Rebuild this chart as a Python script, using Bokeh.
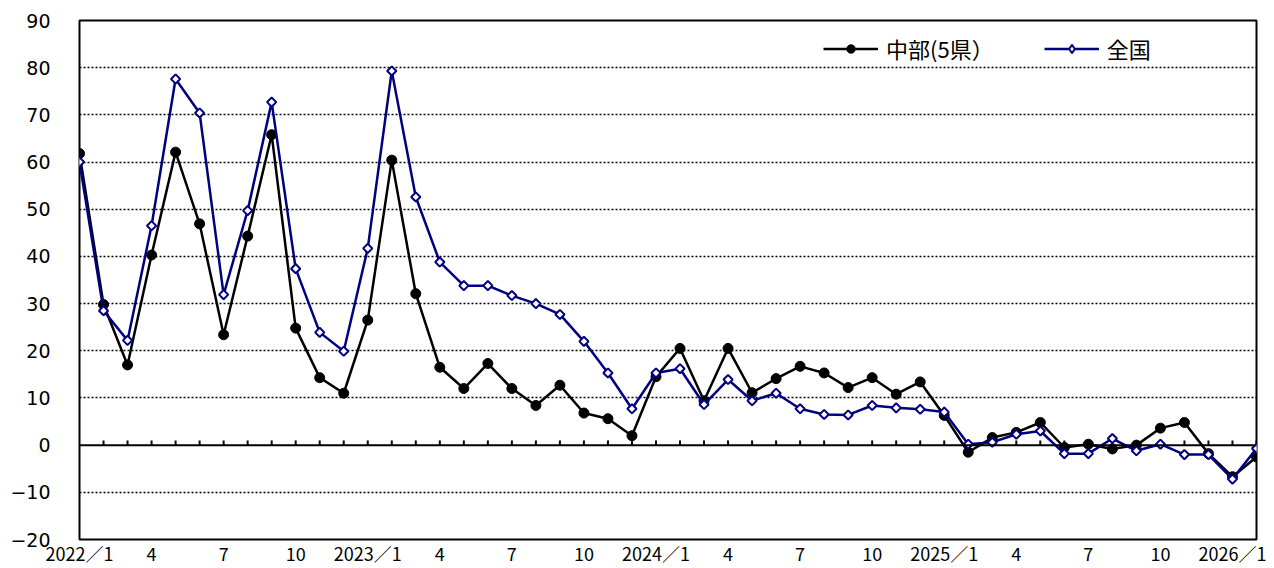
import math
from bokeh.plotting import figure
from bokeh.models import FixedTicker, Range1d, Span, ColumnDataSource, Legend, LegendItem
from bokeh.embed import file_html
from bokeh.resources import INLINE

# month index 0 = 2022/1 ... 49 = 2026/2
months = list(range(50))
chubu = [61.8, 29.8, 17.0, 40.3, 62.1, 46.9, 23.4, 44.3, 65.8, 24.8,
         14.3, 11.0, 26.5, 60.4, 32.1, 16.5, 12.0, 17.3, 12.0, 8.4,
         12.7, 6.8, 5.6, 2.0, 14.5, 20.5, 9.4, 20.5, 11.1, 14.1,
         16.7, 15.3, 12.2, 14.3, 10.8, 13.4, 6.3, -1.5, 1.6, 2.7,
         4.8, -0.5, 0.2, -0.8, 0.0, 3.6, 4.8, -1.8, -6.7, -2.5]
zenkoku = [60.0, 28.5, 22.2, 46.5, 77.6, 70.4, 31.9, 49.7, 72.7, 37.4,
           23.9, 19.9, 41.7, 79.3, 52.6, 38.8, 33.8, 33.8, 31.7, 30.0,
           27.7, 22.0, 15.3, 7.7, 15.3, 16.2, 8.6, 13.9, 9.4, 11.0,
           7.7, 6.5, 6.4, 8.4, 7.9, 7.6, 7.0, 0.2, 0.6, 2.3,
           3.0, -1.8, -1.8, 1.4, -1.2, 0.2, -2.0, -2.0, -7.2, -0.7]
tick_months = [0, 3, 6, 9, 12, 15, 18, 21, 24, 27, 30, 33, 36, 39, 42, 45, 48]
tick_labels = ["2022／1", "4", "7", "10", "2023／1", "4", "7", "10",
               "2024／1", "4", "7", "10", "2025／1", "4", "7", "10", "2026／1"]
y_ticks = [-20, -10, 0, 10, 20, 30, 40, 50, 60, 70, 80, 90]
grid_ticks = [-10, 10, 20, 30, 40, 50, 60, 70, 80]
series_names = ["中部(5県）", "全国"]

FONT = "Noto Sans CJK JP"
NAVY = "#000080"

p = figure(width=1274, height=568, x_range=Range1d(0, 49), y_range=Range1d(-20, 90),
           output_backend="svg", toolbar_location=None,
           min_border_left=79, min_border_right=18, min_border_top=20, min_border_bottom=27)
p.background_fill_color = "white"
p.border_fill_color = "white"
p.outline_line_color = "black"
p.outline_line_width = 2

p.xgrid.visible = False
p.ygrid.ticker = FixedTicker(ticks=grid_ticks)
p.ygrid.grid_line_color = "black"
p.ygrid.grid_line_dash = "2 2"
p.ygrid.grid_line_width = 1.5

p.yaxis.ticker = FixedTicker(ticks=y_ticks)
p.yaxis.axis_line_color = None
p.yaxis.major_tick_line_color = None
p.yaxis.minor_tick_line_color = None
p.yaxis.major_tick_out = 0
p.yaxis.major_tick_in = 0
p.yaxis.major_label_standoff = 29
p.yaxis.major_label_text_font = "DejaVu Sans"
p.yaxis.major_label_text_font_size = "19px"
p.yaxis.major_label_text_color = "black"

p.xaxis.ticker = FixedTicker(ticks=tick_months)
p.xaxis.major_label_overrides = {m: l for m, l in zip(tick_months, tick_labels)}
p.xaxis.axis_line_color = None
p.xaxis.major_tick_line_color = None
p.xaxis.minor_tick_line_color = None
p.xaxis.major_tick_out = 0
p.xaxis.major_tick_in = 0
p.xaxis.major_label_standoff = 0
p.xaxis.major_label_text_font = FONT
p.xaxis.major_label_text_font_size = "18px"
p.xaxis.major_label_text_color = "black"

# zero line and monthly ticks on it
p.add_layout(Span(location=0, dimension="width", line_color="black", line_width=2))
p.segment(x0=months[1:], y0=[0] * 49, x1=months[1:], y1=[1.0] * 49,
          line_color="black", line_width=2)

src = ColumnDataSource(dict(x=months, a=chubu, b=zenkoku))
l1 = p.line("x", "a", source=src, line_color="black", line_width=2.5)
s1 = p.scatter("x", "a", source=src, marker="circle", size=10,
               fill_color="black", line_color="black")
l2 = p.line("x", "b", source=src, line_color=NAVY, line_width=2.5)
# diamond marker (used for the legend), hidden under the rotated squares
s2_leg = p.scatter("x", "b", source=src, marker="diamond", size=5,
                   fill_color="white", line_color=NAVY, line_width=2)
s2 = p.scatter("x", "b", source=src, marker="square", angle=math.pi / 4, size=6.5,
               fill_color="white", line_color=NAVY, line_width=2)

legend = Legend(items=[LegendItem(label=series_names[0], renderers=[l1, s1]),
                       LegendItem(label=series_names[1], renderers=[l2, s2_leg])],
                location=(744, 475), orientation="horizontal")
legend.padding = 0
legend.margin = 0
legend.spacing = 50
legend.glyph_width = 55
legend.glyph_height = 21
legend.label_height = 24
legend.label_standoff = 8
legend.label_text_font = FONT
legend.label_text_font_size = "22px"
legend.label_text_color = "black"
legend.border_line_color = None
legend.background_fill_alpha = 0
p.add_layout(legend)

open("out.html", "w").write(file_html(p, INLINE))
